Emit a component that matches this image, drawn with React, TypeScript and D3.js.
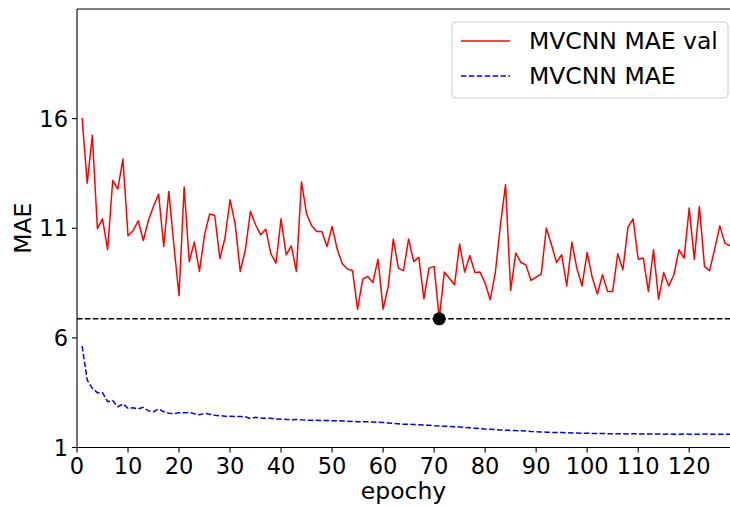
import * as d3 from "d3";
import React from "react";

const maeVal = [
  16.03, 13.06, 15.24, 10.98, 11.43, 10.02, 13.18, 12.79, 14.16, 10.66,
  10.89, 11.34, 10.44, 11.36, 12.0, 12.56, 10.17, 12.68, 10.2, 7.93,
  12.88, 9.48, 10.37, 9.03, 10.7, 11.65, 11.58, 9.62, 10.55, 12.3,
  11.2, 9.03, 10.02, 11.77, 11.16, 10.7, 10.96, 9.84, 9.41, 11.43,
  9.79, 10.2, 9.03, 13.11, 11.66, 11.11, 10.85, 10.85, 10.17, 11.08,
  10.05, 9.38, 9.14, 9.07, 7.31, 8.68, 8.8, 8.53, 9.59, 7.31,
  8.34, 10.51, 9.18, 9.07, 10.51, 9.48, 9.68, 7.78, 9.18, 9.26,
  6.87, 9.0, 8.72, 8.42, 10.28, 9.0, 9.76, 8.98, 9.0, 8.5,
  7.74, 8.98, 11.16, 12.99, 8.16, 9.87, 9.44, 9.33, 8.62, 8.77,
  8.92, 11.01, 10.25, 9.44, 9.79, 8.37, 10.37, 9.15, 8.37, 9.9,
  8.75, 8.0, 8.88, 8.12, 8.12, 9.84, 9.11, 11.05, 11.43, 9.59,
  9.64, 8.12, 10.02, 7.77, 8.98, 8.37, 8.88, 10.02, 9.64, 11.92,
  9.59, 12.0, 9.26, 9.07, 10.05, 11.11, 10.32, 10.2,
];

const maeTrain = [
  5.63, 4.08, 3.7, 3.5, 3.5, 3.09, 3.14, 2.86, 2.99, 2.79,
  2.81, 2.76, 2.83, 2.67, 2.63, 2.76, 2.63, 2.56, 2.54, 2.58,
  2.58, 2.6, 2.54, 2.49, 2.56, 2.52, 2.47, 2.45, 2.43, 2.42,
  2.41, 2.41, 2.4, 2.32, 2.38, 2.34, 2.33, 2.33, 2.3, 2.29,
  2.28, 2.27, 2.28, 2.26, 2.25, 2.24, 2.24, 2.23, 2.23, 2.22,
  2.22, 2.21, 2.2, 2.19, 2.18, 2.18, 2.17, 2.16, 2.15, 2.14,
  2.12, 2.1, 2.08, 2.06, 2.06, 2.05, 2.04, 2.02, 2.01, 1.99,
  1.98, 1.97, 1.96, 1.95, 1.94, 1.92, 1.9, 1.88, 1.86, 1.84,
  1.83, 1.82, 1.8, 1.79, 1.78, 1.77, 1.76, 1.75, 1.73, 1.72,
  1.71, 1.7, 1.69, 1.68, 1.68, 1.67, 1.66, 1.66, 1.65, 1.65,
  1.64, 1.64, 1.64, 1.63, 1.63, 1.63, 1.63, 1.62, 1.63, 1.62,
  1.62, 1.62, 1.61, 1.62, 1.61, 1.62, 1.61, 1.61, 1.62, 1.61,
  1.61, 1.61, 1.62, 1.61, 1.61, 1.61, 1.6, 1.61,
];

const xTicks = [0, 10, 20, 30, 40, 50, 60, 70, 80, 90, 100, 110, 120];
const yTicks = [1, 6, 11, 16];
const seriesNames = ["MVCNN MAE val", "MVCNN MAE"];

export default function App() {
  const width = 730;
  const height = 506;
  const left = 77;
  const right = 730;
  const top = 9;
  const bottom = 447.5;
  const font = "DejaVu Sans, sans-serif";

  const x = d3.scaleLinear().domain([0, 128]).range([left, right]);
  const y = d3.scaleLinear().domain([1, 21]).range([bottom, top]);

  const line = d3
    .line<number>()
    .x((_, i) => x(i + 1))
    .y((d) => y(d));

  const best = d3.minIndex(maeVal);
  const bestVal = maeVal[best];
  const dash = "5.5,2.4";

  return (
    <svg
      width={width}
      height={height}
      style={{ position: "absolute", left: 0, top: 0, background: "#fff" }}
      fontFamily={font}
    >
      <defs>
        <clipPath id="plot">
          <rect x={left} y={top} width={right - left} height={bottom - top} />
        </clipPath>
      </defs>

      <g clipPath="url(#plot)">
        <path d={line(maeVal) || ""} fill="none" stroke="#ff0000" strokeWidth={1.5} strokeLinejoin="round" />
        <path d={line(maeTrain) || ""} fill="none" stroke="#0000ff" strokeWidth={1.5} strokeDasharray={dash} />
        <line x1={left} x2={right} y1={y(bestVal)} y2={y(bestVal)} stroke="#000" strokeWidth={1.5} strokeDasharray={dash} />
        <circle cx={x(best + 1)} cy={y(bestVal)} r={6.5} fill="#000" />
      </g>

      {/* spines */}
      <line x1={left} x2={left} y1={top} y2={bottom} stroke="#000" strokeWidth={1.1} />
      <line x1={left} x2={right} y1={bottom} y2={bottom} stroke="#000" strokeWidth={1.1} />
      <line x1={left} x2={right} y1={top} y2={top} stroke="#000" strokeWidth={1.1} />

      {xTicks.map((t) => (
        <g key={"x" + t}>
          <line x1={x(t)} x2={x(t)} y1={bottom} y2={bottom + 5} stroke="#000" strokeWidth={1.1} />
          <text x={x(t)} y={bottom + 26} textAnchor="middle" fontSize={22.5} fill="#000">
            {t}
          </text>
        </g>
      ))}
      {yTicks.map((t) => (
        <g key={"y" + t}>
          <line x1={left - 5} x2={left} y1={y(t)} y2={y(t)} stroke="#000" strokeWidth={1.1} />
          <text x={left - 9} y={y(t)} dy="0.36em" textAnchor="end" fontSize={22.5} fill="#000">
            {t}
          </text>
        </g>
      ))}

      <text x={(left + right) / 2} y={499} textAnchor="middle" fontSize={23.5} fill="#000">
        epochy
      </text>
      <text transform={`translate(31,${(top + bottom) / 2}) rotate(-90)`} textAnchor="middle" fontSize={23.5} fill="#000">
        MAE
      </text>

      {/* legend */}
      <rect x={452} y={22} width={276} height={76} rx={4} fill="#fff" fillOpacity={0.8} stroke="#cccccc" strokeWidth={1} />
      <line x1={461} x2={510} y1={41} y2={41} stroke="#ff0000" strokeWidth={1.5} />
      <text x={529} y={41} dy="0.36em" fontSize={23.5} fill="#000">
        {seriesNames[0]}
      </text>
      <line x1={461} x2={510} y1={76} y2={76} stroke="#0000ff" strokeWidth={1.5} strokeDasharray={dash} />
      <text x={529} y={76} dy="0.36em" fontSize={23.5} fill="#000">
        {seriesNames[1]}
      </text>
    </svg>
  );
}
